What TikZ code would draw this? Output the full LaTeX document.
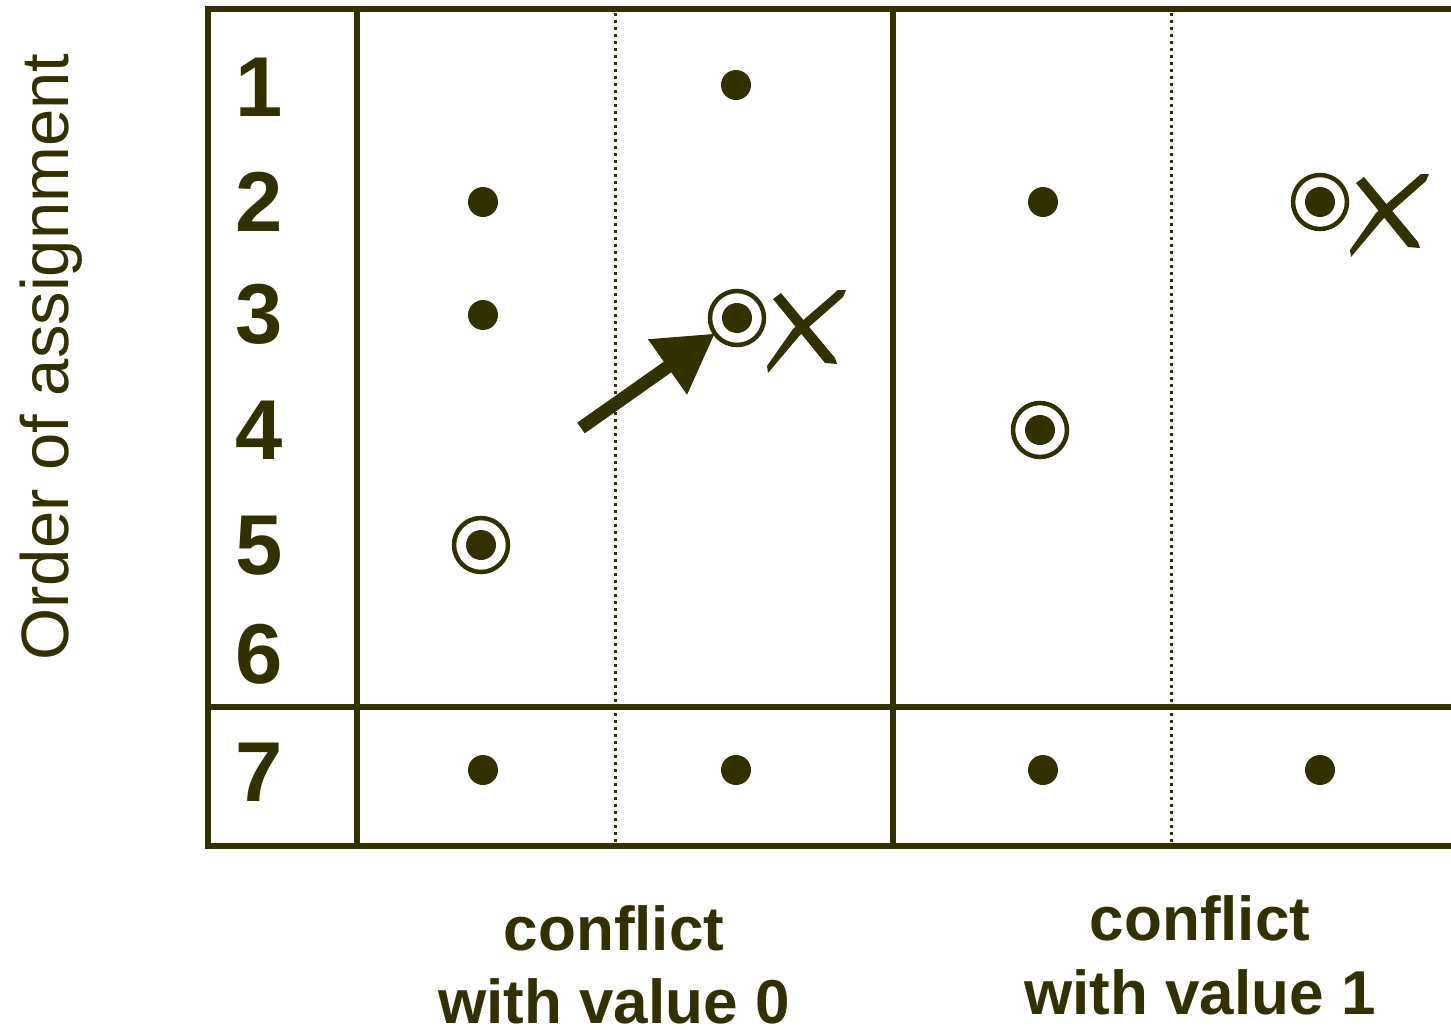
\documentclass[tikz,border=0pt]{standalone}
\usepackage{fontspec}
\setmainfont{Liberation Sans}
\usetikzlibrary{arrows.meta}
\definecolor{ink}{RGB}{51,48,0}
\begin{document}
\begin{tikzpicture}[x=1pt,y=-1pt,
  frame/.style={draw=ink,line width=6.5pt},
  sep/.style={draw=ink,line width=3pt,dash pattern=on 3pt off 4pt},
  dotn/.style={circle,fill=ink,minimum size=30pt,inner sep=0pt},
  ringn/.style={circle,draw=ink,line width=4.5pt,minimum size=54pt,inner sep=0pt,outer sep=0pt,
    path picture={\fill[ink] (path picture bounding box.center) circle (15pt);}},
  num/.style={font=\fontsize{85}{85}\selectfont\bfseries,text=ink,anchor=base,inner sep=0pt},
  captext/.style={font=\fontsize{62}{62}\selectfont\bfseries,text=ink,anchor=base,inner sep=0pt},
  side/.style={font=\fontsize{67}{67}\selectfont,text=ink,anchor=base,inner sep=0pt,rotate=90},
  bigarrow/.style={draw=ink,line width=13pt,-{Triangle[length=58pt,width=64pt]}},
  xmark/.pic={
    \fill[ink] (36,-19) -- (44,-25) -- (98,40) -- (100,46) -- (88,45) -- cycle;
    \fill[ink] (101,-28) -- (109,-28) -- (106,-21) -- (63,17) -- (31,55) -- (30,48) -- (56,11) -- cycle;
  }
]
\useasboundingbox (0,0) rectangle (1451,1029);
\fill[white] (0,0) rectangle (1451,1029);

% frame
\draw[frame] (1460,9) -- (208,9) -- (208,846) -- (1460,846);
\draw[frame] (357,9) -- (357,846);
\draw[frame] (893,9) -- (893,846);
\draw[frame] (208,707) -- (1460,707);
\draw[sep] (615,13) -- (615,843);
\draw[sep] (1171,13) -- (1171,843);

% row numbers
\node[num] (n1) at (259,116) {1};
\node[num] (n2) at (259,231) {2};
\node[num] (n3) at (259,343) {3};
\node[num] (n4) at (259,459) {4};
\node[num] (n5) at (259,574) {5};
\node[num] (n6) at (259,683) {6};
\node[num] (n7) at (259,801) {7};

% side label
\node[side] (lab) at (68,357) {Order of assignment};

% dots
\node[dotn] (a1) at (736,85) {};
\node[dotn] (a2) at (483,202) {};
\node[dotn] (b2) at (1043,202) {};
\node[dotn] (a3) at (483,315) {};
\node[dotn] (r1) at (483,770) {};
\node[dotn] (r2) at (736,770) {};
\node[dotn] (r3) at (1043,770) {};
\node[dotn] (r4) at (1320,770) {};

% circled dots
\node[ringn] (c3) at (737,318) {};
\node[ringn] (c2) at (1320,202) {};
\node[ringn] (c4) at (1040,430) {};
\node[ringn] (c5) at (481,545) {};

% crosses
\pic at (c3) {xmark};
\pic at (c2) {xmark};

% arrow
\coordinate (as) at (581,428);
\draw[bigarrow] (as) -- (c3);

% captions
\node[captext] (l1) at (614,950) {conflict};
\node[captext] (l2) at (614,1023) {with value 0};
\node[captext] (m1) at (1200,940) {conflict};
\node[captext] (m2) at (1200,1014) {with value 1};
\end{tikzpicture}
\end{document}
